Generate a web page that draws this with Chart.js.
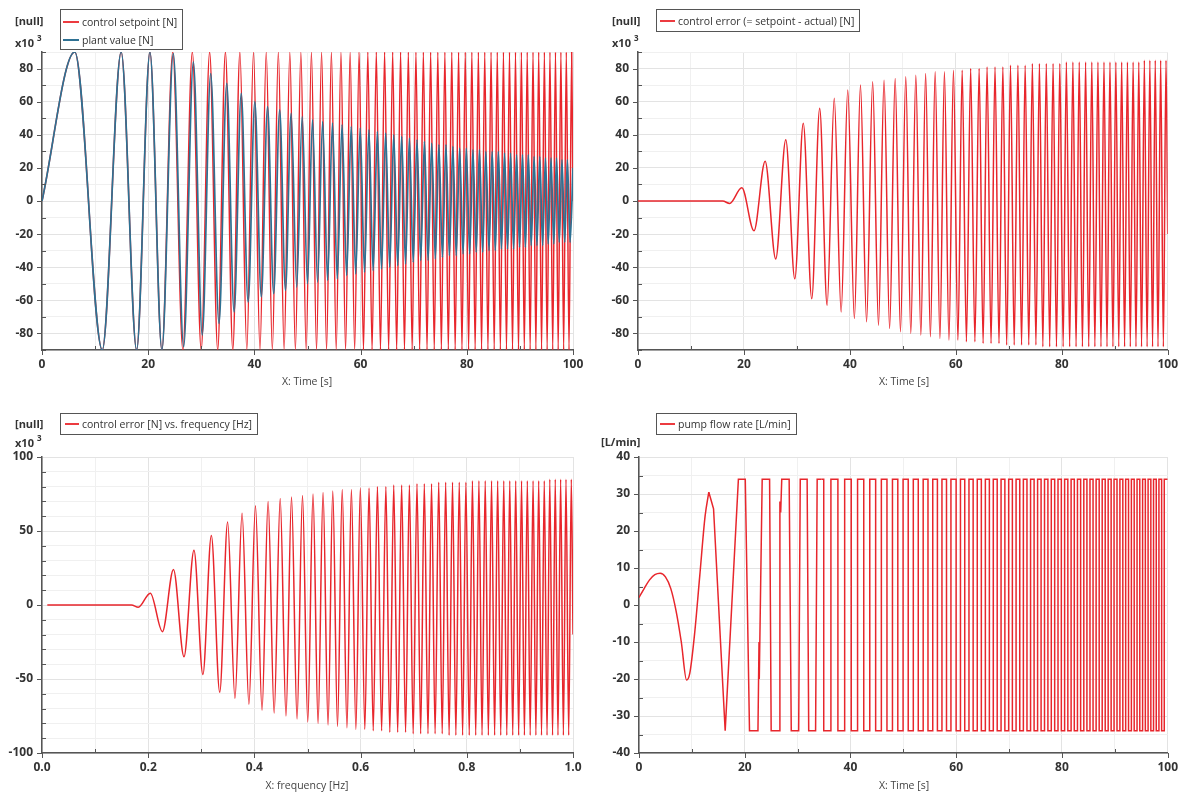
<!DOCTYPE html>
<html><head><meta charset="utf-8">
<script src="https://cdn.jsdelivr.net/npm/chart.js@4.4.1/dist/chart.umd.min.js"></script>
<style>
html,body{margin:0;padding:0;background:#fff}
#root{position:relative;width:1185px;height:793px;overflow:hidden;font-family:'Open Sans',sans-serif}
canvas{position:absolute}
.t{position:absolute;white-space:nowrap;line-height:14px;color:#333}
.b{font-weight:bold;font-size:11px}
.b sup{font-size:8px;position:relative;top:-1px;margin-left:3px;vertical-align:super;line-height:0}
.ax{font-size:10.5px;color:#444;transform:translateX(-50%)}
.lg{position:absolute;border:1px solid #555;background:#fff;padding-left:21px;padding-right:5px;font-size:10.5px;color:#333;white-space:nowrap}
.row{position:relative;height:18px;line-height:18px}
.sw{position:absolute;height:1.6px;top:8px}
</style></head>
<body><div id="root">
<canvas id="c1" width="595" height="395" style="left:0;top:0"></canvas>
<canvas id="c2" width="590" height="395" style="left:595px;top:0"></canvas>
<canvas id="c3" width="595" height="398" style="left:0;top:395px"></canvas>
<canvas id="c4" width="590" height="398" style="left:595px;top:395px"></canvas>

<div class="t b" style="left:15px;top:14px">[null]</div>
<div class="t b" style="left:15px;top:36px">x10<sup>3</sup></div>
<div class="t b" style="left:612px;top:14px">[null]</div>
<div class="t b" style="left:612px;top:36px">x10<sup>3</sup></div>
<div class="t b" style="left:15px;top:417px">[null]</div>
<div class="t b" style="left:15px;top:436px">x10<sup>3</sup></div>
<div class="t b" style="left:601px;top:435px">[L/min]</div>

<div class="t ax" style="left:307px;top:374px">X: Time [s]</div>
<div class="t ax" style="left:904px;top:374px">X: Time [s]</div>
<div class="t ax" style="left:307px;top:778px">X: frequency [Hz]</div>
<div class="t ax" style="left:904px;top:778px">X: Time [s]</div>

<div class="lg" style="left:60px;top:9px;padding-top:3px;padding-bottom:0">
  <div class="row"><div class="sw" style="left:-19px;width:16px;background:#ec3b40"></div>control setpoint [N]</div>
  <div class="row"><div class="sw" style="left:-19px;width:16px;background:#2e7193"></div>plant value [N]</div>
</div>
<div class="lg" style="left:656px;top:9px;padding-top:2px;padding-bottom:1px">
  <div class="row"><div class="sw" style="left:-18px;width:15px;background:#ec3b40"></div>control error (= setpoint - actual) [N]</div>
</div>
<div class="lg" style="left:60px;top:413px;padding-top:1px;padding-bottom:1px">
  <div class="row"><div class="sw" style="left:-17px;width:14px;background:#ec3b40"></div>control error [N] vs. frequency [Hz]</div>
</div>
<div class="lg" style="left:656px;top:413px;padding-top:1px;padding-bottom:1px">
  <div class="row"><div class="sw" style="left:-18px;width:15px;background:#ec3b40"></div>pump flow rate [L/min]</div>
</div>
</div>
<script>
// ---- data ----
// control setpoint extremes (time s, value x10^3 N)
const setT = [0, 6.17, 11.35, 14.91, 17.82, 20.33, 22.58, 24.63, 26.53, 28.31,
  29.98, 31.57, 33.09, 34.54, 35.93, 37.27, 38.57, 39.83, 41.05, 42.23,
  43.38, 44.51, 45.60, 46.67, 47.72, 48.75, 49.75, 50.74, 51.70, 52.65,
  53.59, 54.50, 55.41, 56.30, 57.17, 58.03, 58.88, 59.72, 60.54, 61.36,
  62.16, 62.96, 63.74, 64.52, 65.28, 66.04, 66.79, 67.53, 68.26, 68.99,
  69.71, 70.42, 71.12, 71.82, 72.51, 73.19, 73.87, 74.54, 75.21, 75.87,
  76.52, 77.17, 77.81, 78.45, 79.09, 79.71, 80.34, 80.95, 81.57, 82.18,
  82.78, 83.38, 83.98, 84.57, 85.16, 85.74, 86.32, 86.90, 87.47, 88.04,
  88.61, 89.17, 89.73, 90.28, 90.83, 91.38, 91.93, 92.47, 93.01, 93.54,
  94.08, 94.61, 95.13, 95.66, 96.18, 96.70, 97.21, 97.72, 98.24, 98.74,
  99.25, 99.75, 100];
const setV = [0, 90, -90, 90, -90, 90, -90, 90, -90, 90,
  -90, 90, -90, 90, -90, 90, -90, 90, -90, 90,
  -90, 90, -90, 90, -90, 90, -90, 90, -90, 90,
  -90, 90, -90, 90, -90, 90, -90, 90, -90, 90,
  -90, 90, -90, 90, -90, 90, -90, 90, -90, 90,
  -90, 90, -90, 90, -90, 90, -90, 90, -90, 90,
  -90, 90, -90, 90, -90, 90, -90, 90, -90, 90,
  -90, 90, -90, 90, -90, 90, -90, 90, -90, 90,
  -90, 90, -90, 90, -90, 90, -90, 90, -90, 90,
  -90, 90, -90, 90, -90, 90, -90, 90, -90, 90,
  -90, 90, 0];

// plant value extremes
const plantT = [0, 6.17, 11.35, 14.91, 17.82, 20.33, 22.58, 24.73, 26.68, 28.51,
  30.18, 31.77, 33.34, 34.79, 36.18, 37.52, 38.82, 40.08, 41.30, 42.48,
  43.63, 44.76, 45.85, 46.92, 47.97, 49.00, 50.00, 50.94, 51.90, 52.85,
  53.79, 54.70, 55.61, 56.50, 57.37, 58.23, 59.08, 59.92, 60.74, 61.56,
  62.36, 63.16, 63.94, 64.72, 65.48, 66.24, 66.99, 67.73, 68.46, 69.19,
  69.91, 70.62, 71.32, 72.02, 72.71, 73.39, 74.07, 74.74, 75.41, 76.07,
  76.72, 77.37, 78.01, 78.65, 79.29, 79.91, 80.54, 81.15, 81.77, 82.38,
  82.98, 83.58, 84.18, 84.77, 85.36, 85.94, 86.52, 87.10, 87.67, 88.24,
  88.81, 89.37, 89.93, 90.48, 91.03, 91.58, 92.13, 92.67, 93.21, 93.74,
  94.28, 94.81, 95.33, 95.86, 96.38, 96.90, 97.41, 97.92, 98.44, 98.94,
  99.45, 100];
const plantV = [0, 90, -90, 90, -90, 90, -90, 89, -88, 84,
  -81, 77, -74, 71, -67, 65, -61, 60, -58, 57,
  -56, 55, -54, 53, -52, 51, -50, 49, -49, 48,
  -48, 47, -47, 46, -45, 45, -44, 44, -43, 43,
  -42, 42, -41, 41, -40, 40, -39, 39, -38, 38,
  -37, 37, -36, 36, -36, 35, -35, 34, -34, 34,
  -33, 33, -33, 32, -32, 32, -32, 31, -31, 31,
  -31, 30, -30, 30, -30, 30, -29, 29, -29, 29,
  -29, 28, -28, 28, -28, 28, -27, 27, -27, 27,
  -27, 26, -26, 26, -26, 26, -25, 25, -25, 25,
  -25, 20];

// control error extremes: time (s), frequency (Hz), value (x10^3 N)
const errT = [0, 16, 17.3, 19.6, 21.9, 24.0, 26.0, 27.9, 29.6, 31.2,
  32.8, 34.3, 35.7, 37.05, 38.35, 39.6, 40.85, 42.0, 43.15, 44.3,
  45.4, 46.45, 47.5, 48.55, 49.55, 50.55, 51.5, 52.45, 53.4, 54.3,
  55.2, 56.1, 57.0, 57.85, 58.7, 59.55, 60.4, 61.2, 62.0, 62.8,
  63.6, 64.4, 65.15, 65.9, 66.65, 67.4, 68.15, 68.88, 69.6, 70.32,
  71.02, 71.72, 72.41, 73.09, 73.77, 74.45, 75.12, 75.78, 76.43, 77.08,
  77.72, 78.36, 79.0, 79.63, 80.26, 80.87, 81.49, 82.1, 82.7, 83.3,
  83.9, 84.5, 85.09, 85.67, 86.25, 86.83, 87.4, 87.97, 88.54, 89.1,
  89.66, 90.21, 90.76, 91.31, 91.86, 92.4, 92.94, 93.47, 94.01, 94.54,
  95.06, 95.59, 96.11, 96.63, 97.14, 97.65, 98.17, 98.67, 99.18, 99.68,
  100];
const errF = [0.01, 0.1684, 0.1813, 0.2040, 0.2268, 0.2476, 0.2674, 0.2862, 0.3030, 0.3189,
  0.3347, 0.3496, 0.3634, 0.3768, 0.3897, 0.4020, 0.4144, 0.4258, 0.4372, 0.4486,
  0.4595, 0.4699, 0.4803, 0.4906, 0.5005, 0.5104, 0.5199, 0.5293, 0.5387, 0.5476,
  0.5565, 0.5654, 0.5743, 0.5827, 0.5911, 0.5995, 0.6080, 0.6159, 0.6238, 0.6317,
  0.6396, 0.6476, 0.6550, 0.6624, 0.6698, 0.6773, 0.6847, 0.6919, 0.6990, 0.7062,
  0.7131, 0.7200, 0.7269, 0.7336, 0.7403, 0.7471, 0.7537, 0.7602, 0.7667, 0.7731,
  0.7794, 0.7858, 0.7921, 0.7983, 0.8046, 0.8106, 0.8168, 0.8228, 0.8287, 0.8347,
  0.8406, 0.8466, 0.8524, 0.8581, 0.8639, 0.8696, 0.8753, 0.8809, 0.8865, 0.8921,
  0.8976, 0.9031, 0.9085, 0.9140, 0.9194, 0.9248, 0.9301, 0.9354, 0.9407, 0.9459,
  0.9511, 0.9563, 0.9615, 0.9666, 0.9717, 0.9767, 0.9819, 0.9868, 0.9919, 0.9968,
  1.0];
const errV = [0, 0, -1.5, 8, -18, 24, -35, 37, -47, 47,
  -59, 56, -63, 62, -67, 67, -71, 70, -73, 72,
  -75, 73, -77, 74, -79, 75, -80, 76, -81, 77,
  -82, 78, -83, 78, -84, 79, -84, 79, -85, 80,
  -85, 80, -86, 81, -86, 81, -86, 81, -87, 82,
  -87, 82, -87, 82, -87, 83, -87, 83, -88, 83,
  -88, 83, -88, 83, -88, 84, -88, 84, -88, 84,
  -88, 84, -88, 84, -88, 84, -88, 84, -88, 84,
  -88, 84, -88, 84, -88, 84, -88, 84, -88, 84,
  -88, 85, -88, 85, -88, 85, -88, 85, -88, 85,
  -20];

// pump flow rate (L/min): smooth start, then switching with finite edges, then switch times
const pumpCurveT = [0, 1, 2, 3, 4, 5, 6, 7, 8, 9, 9.6, 10.5, 11.5, 12.5, 13.2];
const pumpCurveV = [2, 4.5, 6.8, 8.2, 8.6, 7.6, 4.5, -1.5, -10, -20.3, -18.5, -8, 8, 24, 30.5];
const pumpEdgeT = [13.2, 13.6, 14.1, 16.3, 18.8, 20.1, 20.9, 22.5, 22.7, 22.75, 23.3, 24.7, 25.0, 26.6, 26.65, 26.8, 27.0, 28.4, 28.8, 30.2, 30.5, 31.8, 32.1, 33.4, 33.7, 34.5];
const pumpEdgeV = [30.5, 28.5, 26, -34, 34, 34, -34, -34, -10, -20, 34, 34, -34, -34, 28, 25, 34, 34, -34, -34, 34, 34, -34, -34, 34, 34];
const pumpStepT = [34.5, 34.94, 36.3, 37.62, 38.9, 40.14, 41.34, 42.51, 43.65, 44.76,
  45.84, 46.9, 47.94, 48.95, 49.95, 50.92, 51.88, 52.82, 53.75, 54.66,
  55.56, 56.44, 57.3, 58.16, 59.0, 59.98, 60.8, 61.61, 62.41, 63.2,
  63.98, 64.75, 65.51, 66.27, 67.01, 67.75, 68.48, 69.2, 69.92, 70.62,
  71.32, 72.02, 72.7, 73.38, 74.06, 74.73, 75.39, 76.05, 76.7, 77.34,
  77.98, 78.62, 79.25, 79.88, 80.5, 81.11, 81.73, 82.33, 82.93, 83.53,
  84.13, 84.72, 85.3, 85.88, 86.46, 87.04, 87.61, 88.18, 88.74, 89.3,
  89.85, 90.41, 90.96, 91.51, 92.05, 92.59, 93.13, 93.66, 94.2, 94.72,
  95.25, 95.77, 96.29, 96.81, 97.32, 97.83, 98.34, 98.85, 99.35, 100];
const pumpStepV = [34, -34, 34, -34, 34, -34, 34, -34, 34, -34,
  34, -34, 34, -34, 34, -34, 34, -34, 34, -34,
  34, -34, 34, -34, 34, -34, 34, -34, 34, -34,
  34, -34, 34, -34, 34, -34, 34, -34, 34, -34,
  34, -34, 34, -34, 34, -34, 34, -34, 34, -34,
  34, -34, 34, -34, 34, -34, 34, -34, 34, -34,
  34, -34, 34, -34, 34, -34, 34, -34, 34, -34,
  34, -34, 34, -34, 34, -34, 34, -34, 34, -34,
  34, -34, 34, -34, 34, -34, 34, -34, 34, 34];

// ---- drawing ----
const RED = '#e8262c', BLUE = '#2e7193';
function pts(xs, ys) { const n = Math.min(xs.length, ys.length), a = []; for (let i = 0; i < n; i++) a.push({x: xs[i], y: ys[i]}); return a; }
function isMajor(v, s) { const q = v / s; return Math.abs(q - Math.round(q)) < 1e-6; }

const tickPlugin = {
  id: 'minorTicks',
  afterDraw(chart, args, o) {
    const ctx = chart.ctx, ca = chart.chartArea, xs = chart.scales.x, ys = chart.scales.y;
    ctx.save(); ctx.strokeStyle = '#555'; ctx.lineWidth = 1;
    xs.ticks.forEach(t => {
      const p = Math.round(xs.getPixelForValue(t.value)) + 0.5;
      ctx.beginPath();
      if (isMajor(t.value, o.xMajor)) { ctx.moveTo(p, ca.bottom); ctx.lineTo(p, ca.bottom + 5); }
      else { ctx.moveTo(p, ca.bottom); ctx.lineTo(p, ca.bottom - 4); }
      ctx.stroke();
    });
    ys.ticks.forEach(t => {
      const p = Math.round(ys.getPixelForValue(t.value)) + 0.5;
      ctx.beginPath();
      if (isMajor(t.value, o.yMajor)) { ctx.moveTo(ca.left, p); ctx.lineTo(ca.left - 5, p); }
      else { ctx.moveTo(ca.left, p); ctx.lineTo(ca.left + 4, p); }
      ctx.stroke();
    });
    ctx.restore();
  }
};

const tickFont = {family: "'Open Sans', sans-serif", size: 12, weight: 'bold'};
function gridCol(c, m) { return (c.tick && isMajor(c.tick.value, m)) ? '#e3e3e3' : '#f0f0f0'; }

function makeOpts(cfg) {
  return {
    responsive: false, animation: false, events: [],
    layout: {padding: {left: 0, top: cfg.top, right: cfg.right, bottom: 0}},
    plugins: {legend: {display: false}, tooltip: {enabled: false}, minorTicks: {xMajor: cfg.xMajor, yMajor: cfg.yMajor}},
    scales: {
      x: {
        type: 'linear', min: cfg.xMin, max: cfg.xMax,
        afterFit: s => { s.height = cfg.xH; },
        ticks: {stepSize: cfg.xStep, autoSkip: false, maxRotation: 0, minRotation: 0, padding: 7, color: '#333', font: tickFont,
          callback: v => isMajor(v, cfg.xMajor) ? cfg.xFmt(v) : ''},
        grid: {drawTicks: false, color: c => gridCol(c, cfg.xMajor), lineWidth: 1},
        border: {display: true, color: '#555', width: 1.5}
      },
      y: {
        type: 'linear', min: cfg.yMin, max: cfg.yMax,
        afterFit: s => { s.width = cfg.yW; },
        ticks: {stepSize: cfg.yStep, autoSkip: false, padding: 9, color: '#333', font: tickFont,
          callback: v => isMajor(v, cfg.yMajor) ? String(v) : ''},
        grid: {drawTicks: false, color: c => gridCol(c, cfg.yMajor), lineWidth: 1},
        border: {display: true, color: '#555', width: 1.5}
      }
    }
  };
}
function ds(data, color, extra) {
  return Object.assign({data, borderColor: color, borderWidth: 1.5, pointRadius: 0, fill: false,
    cubicInterpolationMode: 'monotone'}, extra || {});
}
const fmtInt = v => String(v);

new Chart(document.getElementById('c1'), {
  type: 'line',
  data: {datasets: [
    ds(pts(setT, setV), RED, {order: 1}),
    ds(pts(plantT, plantV), BLUE, {order: 0, borderWidth: 1.7})
  ]},
  options: makeOpts({top: 52, right: 22, xH: 45, yW: 42, xMin: 0, xMax: 100, xStep: 10, xMajor: 20, xFmt: fmtInt,
    yMin: -90, yMax: 90, yStep: 10, yMajor: 20}),
  plugins: [tickPlugin]
});
new Chart(document.getElementById('c2'), {
  type: 'line',
  data: {datasets: [ds(pts(errT, errV), RED)]},
  options: makeOpts({top: 52, right: 15, xH: 45, yW: 43, xMin: 0, xMax: 100, xStep: 10, xMajor: 20, xFmt: fmtInt,
    yMin: -90, yMax: 90, yStep: 10, yMajor: 20}),
  plugins: [tickPlugin]
});
new Chart(document.getElementById('c3'), {
  type: 'line',
  data: {datasets: [ds(pts(errF, errV), RED)]},
  options: makeOpts({top: 62, right: 22, xH: 40, yW: 42, xMin: 0, xMax: 1, xStep: 0.1, xMajor: 0.2, xFmt: v => v.toFixed(1),
    yMin: -100, yMax: 100, yStep: 10, yMajor: 50}),
  plugins: [tickPlugin]
});
new Chart(document.getElementById('c4'), {
  type: 'line',
  data: {datasets: [
    ds(pts(pumpCurveT, pumpCurveV), RED),
    ds(pts(pumpEdgeT, pumpEdgeV), RED, {cubicInterpolationMode: 'default', tension: 0}),
    ds(pts(pumpStepT, pumpStepV), RED, {cubicInterpolationMode: 'default', tension: 0, stepped: true})
  ]},
  options: makeOpts({top: 62, right: 15, xH: 40, yW: 44, xMin: 0, xMax: 100, xStep: 10, xMajor: 20, xFmt: fmtInt,
    yMin: -40, yMax: 40, yStep: 5, yMajor: 10}),
  plugins: [tickPlugin]
});
</script>
</body></html>
